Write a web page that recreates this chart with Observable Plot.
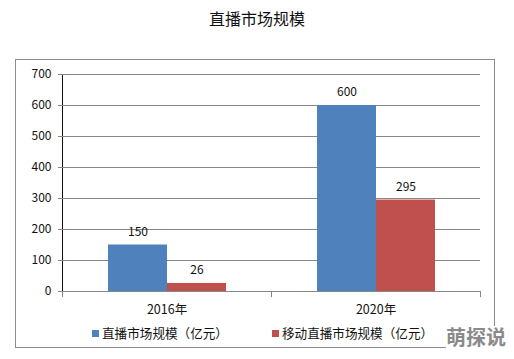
<!DOCTYPE html>
<html><head><meta charset="utf-8">
<script src="https://cdn.jsdelivr.net/npm/d3@7"></script>
<script src="https://cdn.jsdelivr.net/npm/@observablehq/plot@0.6"></script>
<style>
html,body{margin:0;padding:0;background:#fff;}
#wrap{position:relative;width:514px;height:359px;overflow:hidden;font-family:"Noto Sans CJK SC","Noto Sans",sans-serif;}
#box{position:absolute;left:15px;top:59px;width:478px;height:287px;border:1px solid #8c8c8c;}
#title{position:absolute;left:0;width:514px;top:6px;text-align:center;font-size:16px;color:#111;}
#legend{position:absolute;top:323px;left:92px;font-size:12.6px;color:#111;white-space:nowrap;}
#legend span.sw{display:inline-block;width:7px;height:7px;margin-right:3px;vertical-align:1px;}
#legend span.it{display:inline-block;}
#wm{position:absolute;left:446px;top:326px;font-size:20px;font-weight:bold;color:#8a8a8a;background:#fff;line-height:22px;}
#chart{position:absolute;left:0;top:0;}
#chart svg [aria-label^="y-axis"] line, #chart svg [aria-label^="y-axis"] path{stroke:#868686;}
#chart svg [aria-label^="y-axis"] text{font-size:12px;}
#chart svg [aria-label^="fx-axis"] text{font-size:12.5px;}
</style>
</head><body>
<div id="wrap">
<div id="box"></div>
<div id="chart"></div>
<div id="title"></div>
<div id="legend"></div>
<div id="wm">萌探说</div>
</div>
<script>
const title = "直播市场规模";
const years = ["2016年", "2020年"];
const series = ["直播市场规模（亿元）", "移动直播市场规模（亿元）"];
const liveValues = [150, 600];
const mobileValues = [26, 295];
const yTicks = [0, 100, 200, 300, 400, 500, 600, 700];
const colors = ["#4F81BD", "#C0504D"];

const data = years.flatMap((y, i) => [
  {year: y, series: series[0], value: liveValues[i]},
  {year: y, series: series[1], value: mobileValues[i]}
]);

document.getElementById("title").textContent = title;
const lg = document.getElementById("legend");
series.forEach((s, i) => {
  const it = document.createElement("span");
  it.className = "it";
  if (i > 0) it.style.marginLeft = "44px";
  const sw = document.createElement("span");
  sw.className = "sw";
  sw.style.background = colors[i];
  it.appendChild(sw);
  it.appendChild(document.createTextNode(s));
  lg.appendChild(it);
});

const grey = "#868686";
const chart = Plot.plot({
  width: 514,
  height: 359,
  marginLeft: 62,
  marginRight: 34,
  marginTop: 74,
  marginBottom: 68,
  style: {fontFamily: '"Noto Sans CJK SC","Noto Sans",sans-serif', fontSize: "11px", color: "#111", background: "transparent", overflow: "visible"},
  facet: {data, x: "year"},
  fx: {domain: years, padding: 0, label: null, tickSize: 0, tickPadding: 14},
  x: {domain: series, paddingInner: 0, paddingOuter: 0.75, axis: null},
  y: {domain: [0, 700], ticks: yTicks, tickSize: 4, tickPadding: 7, label: null, line: true},
  color: {domain: series, range: colors},
  marks: [
    Plot.ruleY(yTicks, {stroke: grey}),
    Plot.barY(data, {x: "series", y: "value", fill: "series"}),
    Plot.text(data, {x: "series", y: "value", text: d => String(d.value), dy: -13, fill: "#111", fontSize: 12}),
    Plot.frame({anchor: "left", stroke: grey, insetTop: 217, insetBottom: -5}),
    Plot.frame({anchor: "right", stroke: grey, insetTop: 217, insetBottom: -5})
  ]
});
document.getElementById("chart").appendChild(chart);
</script>
</body></html>
